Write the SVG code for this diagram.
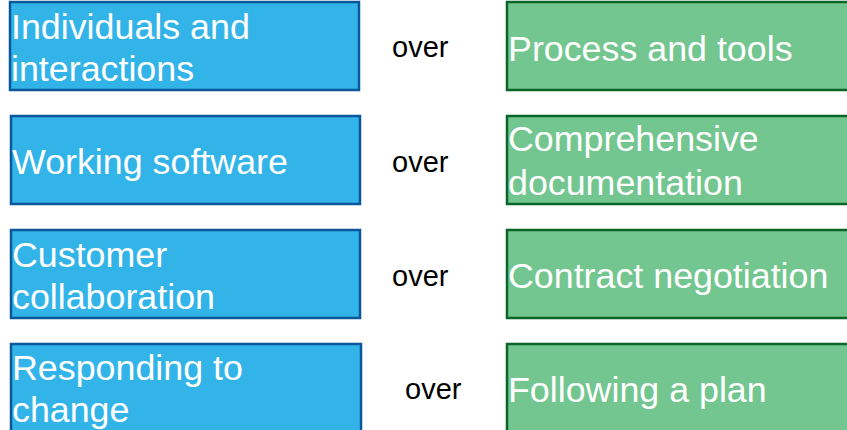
<svg xmlns="http://www.w3.org/2000/svg" width="847" height="430" viewBox="0 0 847 430">
<style>
.b{fill:#33b4e8;stroke:#0b579c;stroke-width:2.5}
.g{fill:#73c68f;stroke:#0b6428;stroke-width:2.5}
.t{font-family:"Liberation Sans",Arial,sans-serif;font-size:35.8px;fill:#ffffff}
.o{font-family:"Liberation Sans",Arial,sans-serif;font-size:29px;fill:#000000}
</style>
<rect width="847" height="430" fill="#ffffff"/>
<g id="left1"><rect class="b" x="10" y="2" width="349" height="88"/><text class="t" x="11" y="39">Individuals and</text><text class="t" x="11" y="81">interactions</text></g>
<g id="over1"><text class="o" x="392" y="57">over</text></g>
<g id="right1"><rect class="g" x="507" y="2" width="345" height="88"/><text class="t" x="508" y="61">Process and tools</text></g>
<g id="left2"><rect class="b" x="11" y="116" width="349" height="88"/><text class="t" x="12" y="174">Working software</text></g>
<g id="over2"><text class="o" x="392" y="172">over</text></g>
<g id="right2"><rect class="g" x="507" y="116" width="345" height="88"/><text class="t" x="508" y="151">Comprehensive</text><text class="t" x="508" y="195">documentation</text></g>
<g id="left3"><rect class="b" x="11" y="230" width="349" height="88"/><text class="t" x="12" y="267">Customer</text><text class="t" x="12" y="309">collaboration</text></g>
<g id="over3"><text class="o" x="392" y="286">over</text></g>
<g id="right3"><rect class="g" x="507" y="230" width="345" height="88"/><text class="t" x="508" y="288">Contract negotiation</text></g>
<g id="left4"><rect class="b" x="11" y="344" width="350" height="90"/><text class="t" x="12" y="380">Responding to</text><text class="t" x="12" y="422">change</text></g>
<g id="over4"><text class="o" x="405" y="399">over</text></g>
<g id="right4"><rect class="g" x="507" y="344" width="345" height="90"/><text class="t" x="508" y="402">Following a plan</text></g>
<g id="connectors"></g>
</svg>
